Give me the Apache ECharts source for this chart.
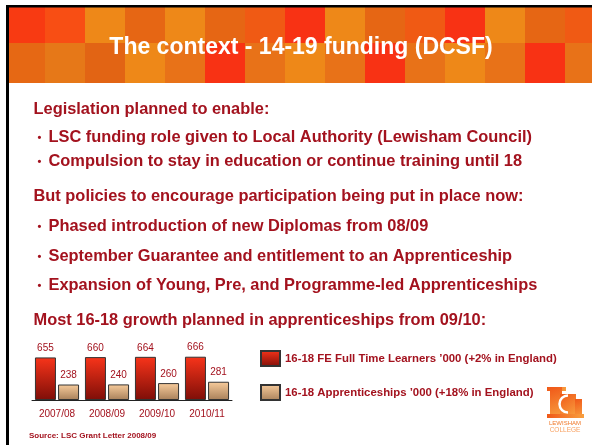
<!DOCTYPE html>
<html>
<head>
<meta charset="utf-8">
<script src="https://cdn.jsdelivr.net/npm/echarts@6/dist/echarts.min.js"></script>
<style>
  html, body { margin: 0; padding: 0; background: #fff; }
  #main { width: 592px; height: 445px; }
</style>
</head>
<body>
<div id="main"></div>
<script>
// chart data
var years = ['2007/08', '2008/09', '2009/10', '2010/11'];
var feLearners = [655, 660, 664, 666];
var apprenticeships = [238, 240, 260, 281];
var seriesNames = ['16-18 FE Full Time Learners \u2019000 (+2% in England)',
                   '16-18 Apprenticeships \u2019000 (+18% in England)'];

// slide text
var title = 'The context - 14-19 funding (DCSF)';
var lines = [
  { text: 'Legislation planned to enable:', bullet: false, y: 109 },
  { text: 'LSC funding role given to Local Authority (Lewisham Council)', bullet: true, y: 137 },
  { text: 'Compulsion to stay in education or continue training until 18', bullet: true, y: 161 },
  { text: 'But policies to encourage participation being put in place now:', bullet: false, y: 196 },
  { text: 'Phased introduction of new Diplomas from 08/09', bullet: true, y: 226 },
  { text: 'September Guarantee and entitlement to an Apprenticeship', bullet: true, y: 256 },
  { text: 'Expansion of Young, Pre, and Programme-led Apprenticeships', bullet: true, y: 285 },
  { text: 'Most 16-18 growth planned in apprenticeships from 09/10:', bullet: false, y: 320 }
];
var source = 'Source: LSC Grant Letter 2008/09';

// header tile colours
var tilesTop = ['#f83a12', '#f84e14', '#ee8818', '#e66614', '#ee8818', '#e66614', '#f05a14', '#f83214',
                '#ee8818', '#e66614', '#f05a14', '#f83214', '#ee8818', '#e66614', '#f05a14'];
var tilesBottom = ['#e66814', '#e67818', '#e26414', '#ee8818', '#e87218', '#f83214', '#e87218', '#ee8818',
                   '#e87218', '#f83214', '#e87218', '#ee8818', '#e87218', '#f83214', '#e87218'];

var textRed = '#a3121e';
var font = '"Liberation Sans", Arial, sans-serif';

var myChart = echarts.init(document.getElementById('main'));

var graphics = [];
// header
tilesTop.forEach(function (c, i) {
  graphics.push({ type: 'rect', shape: { x: 5 + 40 * i, y: 7, width: 40, height: 36 }, style: { fill: c }, silent: true });
});
tilesBottom.forEach(function (c, i) {
  graphics.push({ type: 'rect', shape: { x: 5 + 40 * i, y: 43, width: 40, height: 40 }, style: { fill: c }, silent: true });
});
// frame
graphics.push({ type: 'rect', shape: { x: 0, y: 0, width: 6, height: 445 }, style: { fill: '#fff' } });
graphics.push({ type: 'rect', shape: { x: 0, y: 0, width: 592, height: 5 }, style: { fill: '#fff' } });
graphics.push({ type: 'rect', shape: { x: 6, y: 5, width: 3, height: 440 }, style: { fill: '#000' } });
graphics.push({ type: 'rect', shape: { x: 6, y: 5, width: 586, height: 2.5 }, style: { fill: '#000' } });
// title
graphics.push({
  type: 'text', x: 301, y: 48,
  style: { text: title, fill: '#fff', font: 'bold 23px ' + font, align: 'center', verticalAlign: 'middle' }
});
// body
lines.forEach(function (l) {
  if (l.bullet) {
    graphics.push({ type: 'text', x: 37.5, y: l.y + 1,
      style: { text: '\u2022', fill: textRed, font: 'bold 11px ' + font, verticalAlign: 'middle' } });
    graphics.push({ type: 'text', x: 48.5, y: l.y,
      style: { text: l.text, fill: textRed, font: 'bold 16.4px ' + font, verticalAlign: 'middle' } });
  } else {
    graphics.push({ type: 'text', x: 33.5, y: l.y,
      style: { text: l.text, fill: textRed, font: 'bold 16.4px ' + font, verticalAlign: 'middle' } });
  }
});
graphics.push({ type: 'text', x: 29, y: 436,
  style: { text: source, fill: textRed, font: 'bold 8px ' + font, verticalAlign: 'middle' } });

// college logo
var logoFill = new echarts.graphic.LinearGradient(0, 0, 1, 1, [
  { offset: 0, color: '#f05818' }, { offset: 1, color: '#f8a040' }
]);
graphics.push({ type: 'rect', shape: { x: 547, y: 387, width: 19, height: 4 }, style: { fill: logoFill } });
graphics.push({ type: 'rect', shape: { x: 550, y: 387, width: 12, height: 31 }, style: { fill: logoFill } });
graphics.push({ type: 'rect', shape: { x: 560, y: 394, width: 16, height: 22 }, style: { fill: logoFill } });
graphics.push({ type: 'rect', shape: { x: 575, y: 399, width: 7, height: 19 }, style: { fill: logoFill } });
graphics.push({ type: 'rect', shape: { x: 547, y: 414, width: 37, height: 4 }, style: { fill: logoFill } });
graphics.push({ type: 'arc', shape: { cx: 568, cy: 404, r: 8.5, startAngle: Math.PI * 0.5, endAngle: Math.PI * 1.5 },
  style: { stroke: '#fff', lineWidth: 2.5, fill: null } });
graphics.push({ type: 'text', x: 565, y: 423.5,
  style: { text: 'LEWISHAM', fill: '#f07828', font: '6px ' + font, align: 'center', verticalAlign: 'middle' } });
graphics.push({ type: 'text', x: 565, y: 430,
  style: { text: 'COLLEGE', fill: '#f8a060', font: '6.5px ' + font, align: 'center', verticalAlign: 'middle' } });

var option = {
  animation: false,
  backgroundColor: '#fff',
  graphic: graphics,
  legend: {
    orient: 'vertical',
    left: 260,
    top: 350,
    padding: 0,
    itemWidth: 19,
    itemHeight: 15,
    itemGap: 17,
    icon: 'rect',
    textStyle: { color: textRed, fontSize: 11.4, fontWeight: 'bold', fontFamily: font },
    data: seriesNames
  },
  grid: { left: 32, top: 335, width: 200, height: 65 },
  xAxis: {
    type: 'category',
    data: years,
    axisLine: { lineStyle: { color: '#222', width: 1 } },
    axisTick: { length: 4, lineStyle: { color: '#222' } },
    axisLabel: { color: textRed, fontSize: 10, margin: 9, fontFamily: font }
  },
  yAxis: { type: 'value', min: 0, max: 1000, show: false },
  series: [
    {
      name: seriesNames[0],
      type: 'bar',
      barWidth: 21,
      barGap: '10%',
      itemStyle: {
        color: new echarts.graphic.LinearGradient(0, 0, 0, 1, [
          { offset: 0, color: '#f8341a' }, { offset: 1, color: '#7e0e08' }
        ]),
        borderColor: '#333',
        borderWidth: 1
      },
      label: { show: true, position: 'top', distance: 4, color: textRed, fontSize: 10, fontFamily: font },
      data: feLearners
    },
    {
      name: seriesNames[1],
      type: 'bar',
      barWidth: 21,
      itemStyle: {
        color: new echarts.graphic.LinearGradient(0, 0, 0, 1, [
          { offset: 0, color: '#f8cc9c' }, { offset: 1, color: '#a8805a' }
        ]),
        borderColor: '#333',
        borderWidth: 1
      },
      label: { show: true, position: 'top', distance: 4, color: textRed, fontSize: 10, fontFamily: font },
      data: apprenticeships
    }
  ]
};
option && myChart.setOption(option);
</script>
</body>
</html>
